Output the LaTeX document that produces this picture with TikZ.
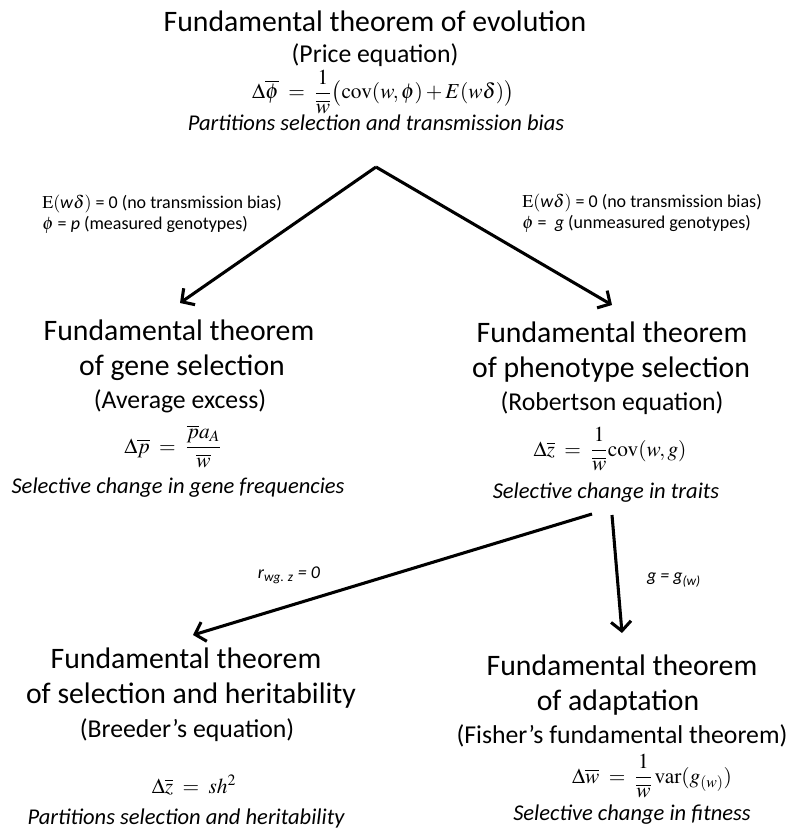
\documentclass[tikz,border=0pt]{standalone}
\usepackage{mathptmx}
\usepackage[no-math]{fontspec}
\setmainfont{Carlito}
\usetikzlibrary{arrows.meta}
\tikzset{
 ttl/.style={anchor=base, font=\fontsize{22.3}{26}\selectfont, inner sep=0},
 sub/.style={anchor=base, font=\fontsize{19.3}{22}\selectfont, inner sep=0},
 captxt/.style={anchor=base, font=\fontsize{16.9}{20}\selectfont\itshape, inner sep=0},
 eqn/.style={anchor=base, font=\fontsize{16}{19}\selectfont, inner sep=0},
 lbl/.style={anchor=base west, font=\fontsize{13.5}{16}\selectfont, inner sep=0},
 slbl/.style={anchor=center, font=\fontsize{13.5}{16}\selectfont\itshape, inner sep=0},
 arr/.style={line width=2.3pt, -{Straight Barb[length=7pt,width=15pt]}}
}
\begin{document}
\begin{tikzpicture}[x=0.75pt,y=-0.75pt]
\useasboundingbox (0,0) rectangle (794,830);
% top block
\node[ttl] (t1) at (375,32) {Fundamental theorem of evolution};
\node[sub] (t1s) at (375,63) {(Price equation)};
\node[eqn] (t1e) at (383,99) {$\displaystyle \Delta\overline{\phi} \;=\; \frac{1}{\overline{w}}\bigl(\mathrm{cov}(w,\phi)+E(w\delta)\bigr)$};
\node[captxt] (t1c) at (376,131) {Partitions selection and transmission bias};
% labels
\node[lbl] (l1) at (42,209) {$\mathrm{E}($\textit{w}$\delta)$ = 0 (no transmission bias)};
\node[lbl] (l2) at (42,230) {$\phi$ = \textit{p} (measured genotypes)};
\node[lbl] (r1) at (522,208) {$\mathrm{E}($\textit{w}$\delta)$ = 0 (no transmission bias)};
\node[lbl] (r2) at (522,229) {$\phi$ = \ \textit{g} (unmeasured genotypes)};
% middle left
\node[ttl] (g1) at (179,340) {Fundamental theorem};
\node[ttl] (g2) at (182,375) {of gene selection};
\node[sub] (g3) at (180,408) {(Average excess)};
\node[eqn] (g4) at (173,453) {$\displaystyle \Delta\overline{p} \;=\; \frac{\overline{p}a_{A}}{\overline{w}}$};
\node[captxt] (g5) at (178,493) {Selective change in gene frequencies};
% middle right
\node[ttl] (p1) at (612,342) {Fundamental theorem};
\node[ttl] (p2) at (611,377) {of phenotype selection};
\node[sub] (p3) at (612,410) {(Robertson equation)};
\node[eqn] (p4) at (610,456) {$\displaystyle \Delta\overline{z} \;=\; \frac{1}{\overline{w}}\mathrm{cov}(w,g)$};
\node[captxt] (p5) at (606,498) {Selective change in traits};
% bottom left
\node[ttl] (h1) at (186,668) {Fundamental theorem};
\node[ttl] (h2) at (191,703) {of selection and heritability};
\node[sub] (h3) at (187,737) {(Breeder’s equation)};
\node[eqn] (h4) at (194,793) {$\Delta\overline{z} \;=\; sh^{2}$};
\node[captxt] (h5) at (186,824) {Partitions selection and heritability};
% bottom right
\node[ttl] (a1) at (622,675) {Fundamental theorem};
\node[ttl] (a2) at (618,710) {of adaptation};
\node[sub] (a3) at (622,743) {(Fisher’s fundamental theorem)};
\node[eqn] (a4) at (652,783) {$\displaystyle \Delta\overline{w} \;=\; \frac{1}{\overline{w}}\,\mathrm{var}(g_{(w)})$};
\node[captxt] (a5) at (632,820) {Selective change in fitness};
% arrows
\coordinate (apex) at (376,167);
\coordinate (tipL) at (180,303);
\coordinate (tipR) at (612,305);
\draw[arr] (apex) -- (tipL);
\draw[arr] (apex) -- (tipR);
\coordinate (s2) at (592,514);
\coordinate (tipH) at (193,635);
\coordinate (s3) at (612,515);
\coordinate (tipA) at (622,633);
\draw[arr] (s2) -- (tipH);
\draw[arr] (s3) -- (tipA);
\node[slbl] (rl) at (289,575) {\textit{r}\textsubscript{\textit{wg. z}} = 0};
\node[slbl] (gl) at (674,580) {\textit{g} = \textit{g}\textsubscript{\textit{(w)}}};
\end{tikzpicture}
\end{document}
